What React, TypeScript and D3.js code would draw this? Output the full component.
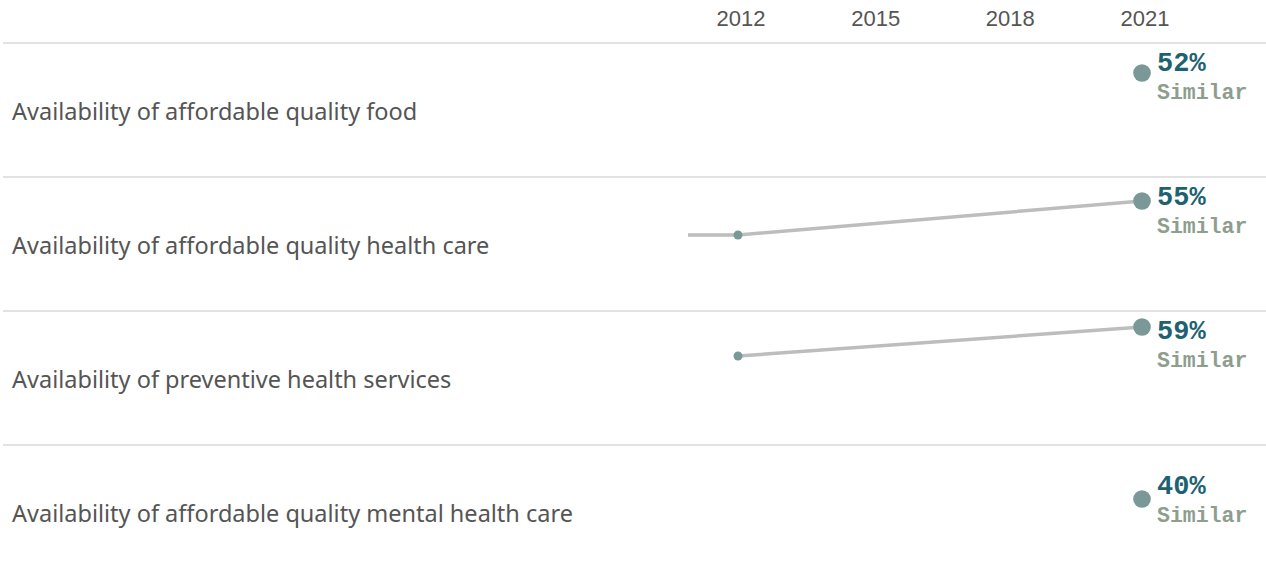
import React from "react";
import * as d3 from "d3";

const categories = [
  "Availability of affordable quality food",
  "Availability of affordable quality health care",
  "Availability of preventive health services",
  "Availability of affordable quality mental health care",
];
const axisYears = [2012, 2015, 2018, 2021];
const seriesYears = [
  [2021],
  [2010, 2012, 2021],
  [2012, 2021],
  [2021],
];
const seriesValues = [
  [52],
  [38, 38, 55],
  [44.5, 59],
  [40],
];
const latestLabels = ["52%", "55%", "59%", "40%"];
const comparisonLabels = ["Similar", "Similar", "Similar", "Similar"];

const W = 1266;
const H = 577;
const rowTop0 = 43;
const rowH = 134;
const paneLeft = 688;

export default function App() {
  const x = d3.scaleLinear().domain([2012, 2021]).range([738, 1142]);
  const line = d3.line<[number, number]>().x((d) => d[0]).y((d) => d[1]);
  return (
    <svg width={W} height={H} style={{ position: "absolute", left: 0, top: 0, background: "#fff" }}>
      <defs>
        <clipPath id="pane">
          <rect x={paneLeft} y={0} width={W - paneLeft} height={H} />
        </clipPath>
      </defs>
      {axisYears.map((yr) => (
        <text
          key={yr}
          x={x(yr) + 3}
          y={26}
          textAnchor="middle"
          fontFamily="Liberation Sans, Arial, sans-serif"
          fontSize={22}
          fill="#555"
        >
          {yr}
        </text>
      ))}
      {categories.map((cat, i) => {
        const top = rowTop0 + i * rowH;
        const y = d3.scaleLinear().domain([0, 67]).range([top + rowH, top]);
        const yrs = seriesYears[i];
        const vals = seriesValues[i];
        const pts: [number, number][] = yrs.map((yr, j) => [x(yr), y(vals[j])]);
        const last = pts[pts.length - 1];
        const numY = Math.max(top + 18.5, last[1] - 14.5);
        return (
          <g key={cat}>
            <line x1={3} x2={W} y1={top} y2={top} stroke="#d9d9d9" strokeWidth={1.5} />
            <text
              x={12}
              y={top + rowH / 2 + 1.5}
              dy="0.35em"
              fontFamily="Noto Sans, Open Sans, sans-serif"
              fontSize={23.5}
              fill="#555"
            >
              {cat}
            </text>
            {pts.length > 1 && (
              <path
                d={line(pts) || ""}
                fill="none"
                stroke="#bdbdbd"
                strokeWidth={3.5}
                clipPath="url(#pane)"
              />
            )}
            {pts.slice(0, -1).map((p, j) =>
              yrs[j] >= 2012 ? <circle key={j} cx={p[0]} cy={p[1]} r={4.5} fill="#7a9898" /> : null
            )}
            <circle cx={last[0]} cy={last[1]} r={8.8} fill="#7a9898" />
            <text
              x={1157}
              y={numY}
              dy="0.35em"
              fontFamily="Liberation Mono, Courier New, monospace"
              fontWeight="bold"
              fontSize={27}
              fill="#1e6272"
            >
              {latestLabels[i]}
            </text>
            <text
              x={1157}
              y={numY + 30}
              dy="0.35em"
              fontFamily="Liberation Mono, Courier New, monospace"
              fontWeight="bold"
              fontSize={21.5}
              fill="#8e9e8e"
            >
              {comparisonLabels[i]}
            </text>
          </g>
        );
      })}
    </svg>
  );
}
